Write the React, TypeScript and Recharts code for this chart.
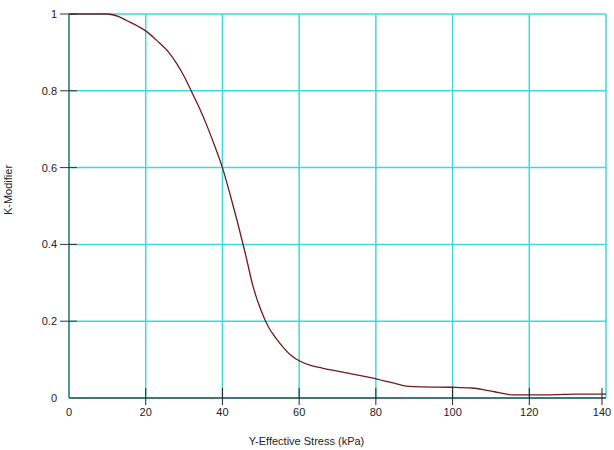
import React from 'react';
import { LineChart, Line, XAxis, YAxis, CartesianGrid } from 'recharts';

// effective stress (kPa) vs K-modifier
const stress = [0, 5, 10, 13, 15, 18, 20, 23, 26, 28, 30, 32, 34, 36, 38, 40, 42, 44, 46, 48, 50, 52, 54, 56, 58, 60, 63, 66, 70, 75, 80, 85, 88, 92, 100, 105, 108, 112, 116, 120, 125, 128, 132, 140];
const kModifier = [1, 1, 1, 0.993, 0.983, 0.968, 0.956, 0.93, 0.9, 0.872, 0.838, 0.797, 0.755, 0.708, 0.656, 0.6, 0.53, 0.455, 0.375, 0.29, 0.23, 0.185, 0.155, 0.13, 0.11, 0.097, 0.085, 0.078, 0.07, 0.06, 0.05, 0.038, 0.031, 0.029, 0.028, 0.026, 0.022, 0.014, 0.008, 0.008, 0.008, 0.009, 0.01, 0.01];

const xTicks = [0, 20, 40, 60, 80, 100, 120, 140];
const yTicks = [0, 0.2, 0.4, 0.6, 0.8, 1];

const data = stress.map((s, i) => ({ stress: s, k: kModifier[i] }));

const FONT = '"Liberation Sans", Arial, sans-serif';
const GRID = '#3ddada';

const YTick = (props: any) => {
    const { x, y, payload } = props;
    return (
        <g>
            {payload.value !== 0 && <line x1={x - 9} x2={x + 8} y1={y} y2={y} stroke="#333" />}
            <text x={x - 12} y={y} dy={4} textAnchor="end" fontSize={11} fontFamily={FONT} fill="#222">
                {payload.value}
            </text>
        </g>
    );
};

const XTick = (props: any) => {
    const { x, y, payload } = props;
    return (
        <g>
            {payload.value !== 0 && <line x1={x} x2={x} y1={y - 10} y2={y + 7} stroke="#222" />}
            <text x={x} y={y} dy={18} textAnchor="middle" fontSize={11} fontFamily={FONT} fill="#222">
                {payload.value}
            </text>
        </g>
    );
};

const YLabel = (props: any) => {
    const vb = props.viewBox || { x: 0, y: 14, height: 384 };
    const cx = vb.x + 8;
    const cy = vb.y + vb.height / 2 - 16;
    return (
        <text x={cx} y={cy} dy={4} transform={`rotate(-90, ${cx}, ${cy})`} textAnchor="middle" fontSize={11} fontFamily={FONT} fill="#222">
            K-Modifier
        </text>
    );
};

export default function App() {
    return (
        <div style={{ position: 'absolute', left: 0, top: 0, width: 614, height: 450, background: '#fff' }}>
            <LineChart width={614} height={450} data={data} margin={{ top: 14, right: 8, bottom: 0, left: 0 }}>
                <CartesianGrid stroke={GRID} strokeWidth={1.5} />
                <XAxis
                    dataKey="stress"
                    type="number"
                    domain={[0, 140]}
                    ticks={xTicks}
                    height={52}
                    tickSize={0}
                    tickMargin={0}
                    tickLine={false}
                    axisLine={{ stroke: '#111' }}
                    tick={<XTick />}
                    label={{ value: 'Y-Effective Stress (kPa)', position: 'insideBottom', offset: 5, dx: -31, fontSize: 11, fontFamily: FONT, fill: '#222' }}
                />
                <YAxis
                    type="number"
                    domain={[0, 1]}
                    ticks={yTicks}
                    width={69}
                    tickSize={0}
                    tickMargin={0}
                    tickLine={false}
                    axisLine={{ stroke: '#444' }}
                    tick={<YTick />}
                    label={<YLabel />}
                />
                <Line
                    type="monotone"
                    dataKey="k"
                    stroke="#6e1c1c"
                    strokeWidth={1.3}
                    dot={false}
                    isAnimationActive={false}
                />
            </LineChart>
        </div>
    );
}
